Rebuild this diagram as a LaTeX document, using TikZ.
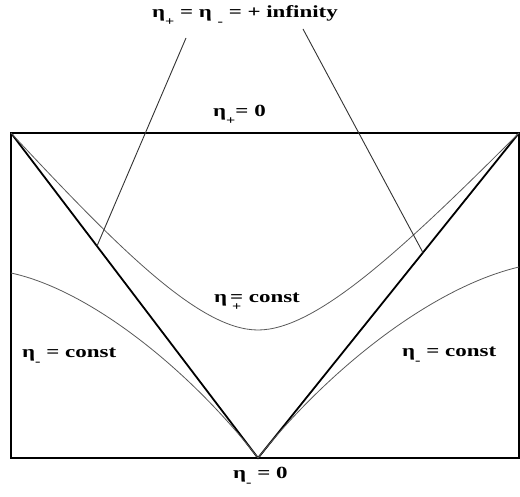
\documentclass[tikz,border=0pt]{standalone}
\usepackage{fontspec}
\newfontfamily\lblfont{Liberation Serif}[FakeStretch=1.35]
\usetikzlibrary{calc}
\newcommand{\lowsub}[1]{\raisebox{-8pt}{\fontsize{12}{12}\selectfont#1}}

\begin{document}
\begin{tikzpicture}[x=1pt,y=-1pt,
  lbl/.style={font=\lblfont\bfseries\fontsize{17}{20}\selectfont, inner sep=0pt},
  frame/.style={line width=1.8pt},
  level/.style={line width=0.8pt, black!65},
  pointer/.style={line width=0.9pt, black!80}]
\useasboundingbox (0,0) rectangle (520,497);
\coordinate (tl) at (11,133); \coordinate (tr) at (519,133);
\coordinate (br) at (519,458); \coordinate (apex) at (258,458);
\draw[frame] (tl) rectangle (br);
\draw[frame] (tl) -- (apex) -- (tr);
% eta_+ = const
\draw[level] (tl) .. controls (120,250) and (200,330) .. (258,330)
  .. controls (316,330) and (402,250) .. (tr);
% eta_- = const
\draw[level] (11,273) .. controls (90,290) and (190,370) .. (apex);
\draw[level] (apex) .. controls (326,372) and (430,288) .. (519,267);
% labels
\node[lbl, anchor=base east] (inf) at (338,18) {η\lowsub{+} = η \lowsub{-} = + infinity};
\node[lbl, anchor=base west] (zeroplus) at (213,117) {η\lowsub{+}= 0};
\node[lbl, anchor=base west] (constplus) at (214,303) {η\,\rlap{\hspace{2pt}\lowsub{+}}= const};
\node[lbl, anchor=base west] (constleft) at (22,358) {η\lowsub{-} = const};
\node[lbl, anchor=base west] (constright) at (402,357) {η\lowsub{-} = const};
\node[lbl, anchor=base west] (zerominus) at (233,478) {η\lowsub{-} = 0};
% pointers to the light cone
\coordinate (ls) at (186,38); \coordinate (rs) at (303,29);
\coordinate (pl) at ($(tl)!0.348!(apex)$);
\coordinate (pr) at ($(tr)!0.368!(apex)$);
\draw[pointer] (ls) -- (pl);
\draw[pointer] (rs) -- (pr);
\end{tikzpicture}
\end{document}
